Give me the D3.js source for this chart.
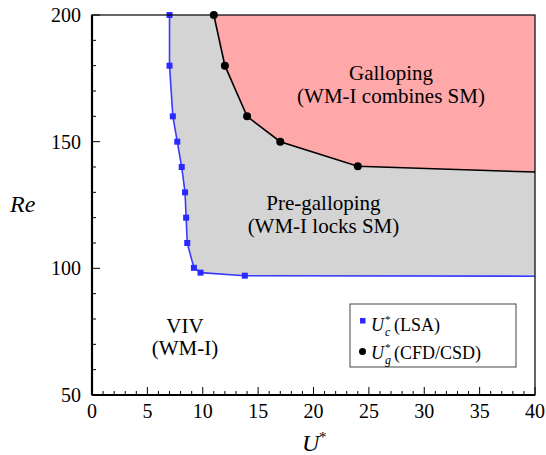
<!DOCTYPE html>
<html>
<head>
<meta charset="utf-8">
<script src="https://cdn.jsdelivr.net/npm/d3@7"></script>
</head>
<body style="margin:0">
<div id="fig"></div>
<script>
const width = 546;
const height = 455;
const margin = { top: 15, right: 11, bottom: 60, left: 92 };

// critical velocity from LSA (blue squares)
const lsaU = [7, 7, 7.3, 7.7, 8.1, 8.4, 8.5, 8.6, 9.2, 9.8, 13.8];
const lsaRe = [200, 180, 160, 150, 140, 130, 120, 110, 100.2, 98.3, 97.1];
const lsaEnd = { u: 40, re: 96.9 };

// galloping onset from CFD/CSD (black dots)
const cfdU = [11, 12, 14, 17, 24];
const cfdRe = [200, 180, 160, 150, 140.3];
const cfdEnd = { u: 40, re: 138 };

const xTicks = [0, 5, 10, 15, 20, 25, 30, 35, 40];
const yTicks = [50, 100, 150, 200];

const lsa = lsaU.map((u, i) => ({ u, re: lsaRe[i] }));
const cfd = cfdU.map((u, i) => ({ u, re: cfdRe[i] }));

const x = d3.scaleLinear().domain([0, 40]).range([margin.left, width - margin.right]);
const y = d3.scaleLinear().domain([50, 200]).range([height - margin.bottom, margin.top]);

const svg = d3.select('#fig').append('svg')
    .attr('width', width).attr('height', height);

const line = d3.line().x(d => x(d.u)).y(d => y(d.re));

// pre-galloping region (right of blue curve)
svg.append('path')
    .attr('d', line([...lsa, lsaEnd, { u: 40, re: 200 }]) + 'Z')
    .attr('fill', '#d4d4d4');

// galloping region (above black curve)
svg.append('path')
    .attr('d', line([...cfd, cfdEnd, { u: 40, re: 200 }]) + 'Z')
    .attr('fill', '#ffa8aa');

// curves
svg.append('path')
    .attr('d', line([...lsa, lsaEnd]))
    .attr('fill', 'none')
    .attr('stroke', '#3a3aff')
    .attr('stroke-width', 1.6);

svg.append('path')
    .attr('d', line([...cfd, cfdEnd]))
    .attr('fill', 'none')
    .attr('stroke', '#000')
    .attr('stroke-width', 1.6);

svg.selectAll('rect.lsa')
    .data(lsa)
    .join('rect')
    .attr('class', 'lsa')
    .attr('x', d => x(d.u) - 3)
    .attr('y', d => y(d.re) - 3)
    .attr('width', 6).attr('height', 6)
    .attr('fill', '#2a2aff');

svg.selectAll('circle.cfd')
    .data(cfd)
    .join('circle')
    .attr('class', 'cfd')
    .attr('cx', d => x(d.u))
    .attr('cy', d => y(d.re))
    .attr('r', 4)
    .attr('fill', '#000');

// frame
svg.append('rect')
    .attr('x', x(0)).attr('y', y(200))
    .attr('width', x(40) - x(0)).attr('height', y(50) - y(200))
    .attr('fill', 'none').attr('stroke', '#000').attr('stroke-width', 1.2);
svg.append('line')
    .attr('x1', x(0)).attr('x2', x(0)).attr('y1', y(200)).attr('y2', y(50))
    .attr('stroke', '#000').attr('stroke-width', 2.2);
svg.append('line')
    .attr('x1', x(0)).attr('x2', x(40)).attr('y1', y(50)).attr('y2', y(50))
    .attr('stroke', '#000').attr('stroke-width', 2.2);

// ticks (inward)
svg.selectAll('line.xt')
    .data(d3.range(0, 41, 1))
    .join('line')
    .attr('class', 'xt')
    .attr('x1', d => x(d)).attr('x2', d => x(d))
    .attr('y1', y(50)).attr('y2', d => y(50) - (d % 5 === 0 ? 8 : 4))
    .attr('stroke', '#000').attr('stroke-width', 1);

svg.selectAll('line.yt')
    .data(d3.range(50, 201, 10))
    .join('line')
    .attr('class', 'yt')
    .attr('y1', d => y(d)).attr('y2', d => y(d))
    .attr('x1', x(0)).attr('x2', d => x(0) + (d % 50 === 0 ? 8 : 4))
    .attr('stroke', '#000').attr('stroke-width', 1);

// all texts go through this helper so they share the serif face
function label(parent, s, px, py, size, opts = {}) {
    const t = parent.append('text')
        .style('font-family', '"Liberation Serif"')
        .attr('x', px)
        .attr('y', py)
        .attr('font-size', size)
        .text(s);
    if (opts.anchor) t.attr('text-anchor', opts.anchor);
    if (opts.italic) t.attr('font-style', 'italic');
    return t;
}

xTicks.forEach(d => label(svg, d, x(d), y(50) + 23, 20, { anchor: 'middle' }));
yTicks.forEach(d => label(svg, d, x(0) - 11, y(d) + 7, 20, { anchor: 'end' }));

// axis titles
label(svg, 'U', 302, 451, 24, { italic: true });
label(svg, '*', 319, 442, 15);
label(svg, 'Re', 10, 212, 24, { italic: true });

// region labels
const labels = [
    { lines: ['Galloping', '(WM-I combines SM)'], u: 27.0, re: 174.2, gap: 23 },
    { lines: ['Pre-galloping', '(WM-I locks SM)'], u: 20.9, re: 123.1, gap: 23.5 },
    { lines: ['VIV', '(WM-I)'], u: 8.4, re: 74.3, gap: 22 }
];
labels.forEach(l => {
    l.lines.forEach((s, i) => label(svg, s, x(l.u), y(l.re) + i * l.gap, 21, { anchor: 'middle' }));
});

// legend
const lg = svg.append('g').attr('transform', 'translate(350,304)');
lg.append('rect')
    .attr('width', 166).attr('height', 63)
    .attr('fill', '#fff').attr('stroke', '#444').attr('stroke-width', 1);
lg.append('rect').attr('x', 10).attr('y', 14).attr('width', 5.5).attr('height', 5.5).attr('fill', '#2a2aff');
lg.append('circle').attr('cx', 12.5).attr('cy', 47.5).attr('r', 3.5).attr('fill', '#000');

const entries = [
    { sub: 'c', rest: '(LSA)', yy: 27 },
    { sub: 'g', rest: '(CFD/CSD)', yy: 55 }
];
entries.forEach(e => {
    label(lg, 'U', 21, e.yy, 18, { italic: true });
    label(lg, '*', 35, e.yy - 8, 11);
    label(lg, e.sub, 35, e.yy + 5, 12, { italic: true });
    label(lg, e.rest, 44, e.yy, 18);
});
</script>
</body>
</html>
